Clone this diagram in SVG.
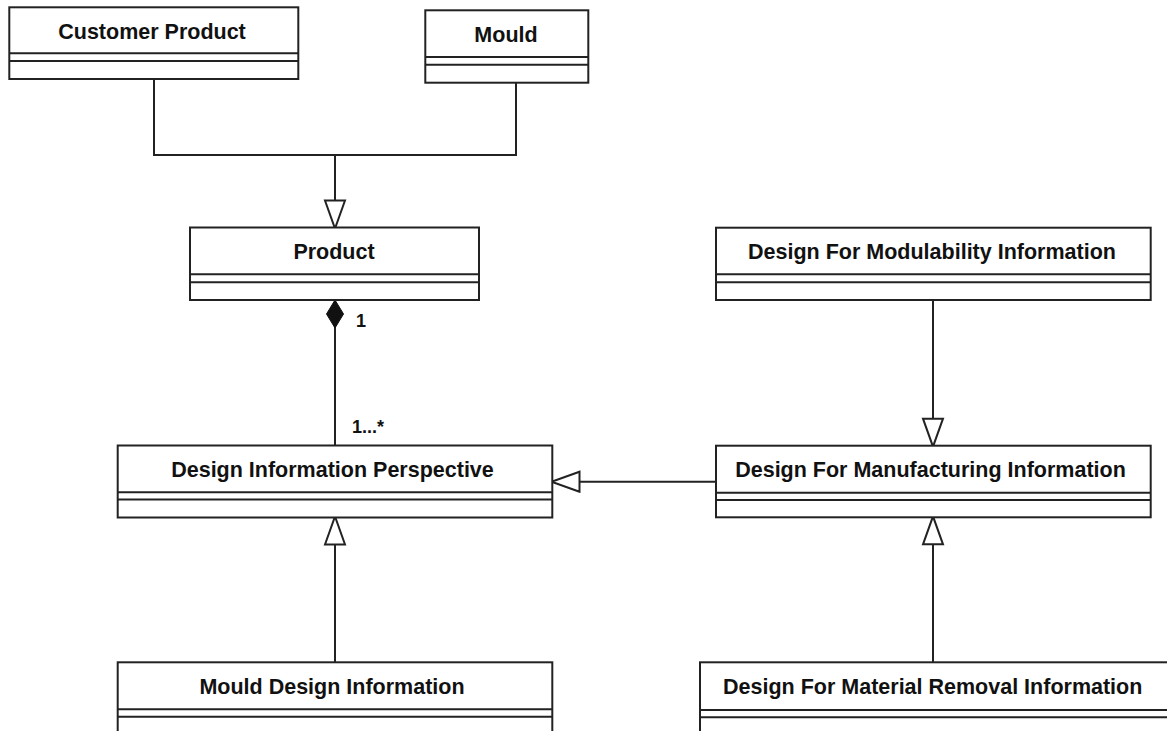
<svg xmlns="http://www.w3.org/2000/svg" width="1167" height="731" viewBox="0 0 1167 731">
  <style>
    .box { fill: #ffffff; stroke: #222222; stroke-width: 2; }
    .div { stroke: #222222; stroke-width: 2; fill: none; }
    .name { font-family: "Liberation Sans", Arial, Helvetica, sans-serif; font-weight: bold; font-size: 21.5px; fill: #111111; text-anchor: middle; }
    .mult { font-family: "Liberation Sans", Arial, Helvetica, sans-serif; font-weight: bold; font-size: 18px; fill: #111111; }
    .conn { stroke: #222222; stroke-width: 2; fill: none; }
  </style>
  <defs>
    <marker id="gen" markerUnits="userSpaceOnUse" viewBox="-2 -2 32 24" markerWidth="32" markerHeight="24" refX="27" refY="10" orient="auto" overflow="visible">
      <path d="M0,0 L28,10 L0,20 Z" fill="#ffffff" stroke="#222222" stroke-width="2" stroke-linejoin="miter"/>
    </marker>
    <marker id="comp" markerUnits="userSpaceOnUse" viewBox="-2 -2 32 22" markerWidth="32" markerHeight="22" refX="28" refY="8.5" orient="auto" overflow="visible">
      <path d="M0,8.5 L14,0 L28,8.5 L14,17 Z" fill="#111111" stroke="#111111" stroke-width="1"/>
    </marker>
  </defs>

  <g id="connectors">
    <path class="conn" d="M154,79 V155 H335"/>
    <path class="conn" d="M516,82.7 V155 H335"/>
    <path class="conn" d="M335,155 V227.5" marker-end="url(#gen)"/>
    <path class="conn" d="M335,445.5 V300" marker-end="url(#comp)"/>
    <path class="conn" d="M933,300 V445.7" marker-end="url(#gen)"/>
    <path class="conn" d="M716,481.7 H552.5" marker-end="url(#gen)"/>
    <path class="conn" d="M335,662.3 V517.5" marker-end="url(#gen)"/>
    <path class="conn" d="M933,662.3 V517.3" marker-end="url(#gen)"/>
    <text class="mult" x="356" y="326.7">1</text>
    <text class="mult" x="352" y="433.3">1...*</text>
  </g>

  <g id="customer-product">
    <rect class="box" x="9.3" y="7.3" width="289" height="71.7"/>
    <line class="div" x1="9.3" y1="53.3" x2="298.3" y2="53.3"/>
    <line class="div" x1="9.3" y1="61" x2="298.3" y2="61"/>
    <text class="name" x="152" y="38.5">Customer Product</text>
  </g>

  <g id="mould">
    <rect class="box" x="425.3" y="10.3" width="163" height="72.4"/>
    <line class="div" x1="425.3" y1="57" x2="588.3" y2="57"/>
    <line class="div" x1="425.3" y1="64.7" x2="588.3" y2="64.7"/>
    <text class="name" x="506" y="41.7">Mould</text>
  </g>

  <g id="product">
    <rect class="box" x="190" y="227.5" width="289" height="72.5"/>
    <line class="div" x1="190" y1="274.3" x2="479" y2="274.3"/>
    <line class="div" x1="190" y1="282.3" x2="479" y2="282.3"/>
    <text class="name" x="334" y="259">Product</text>
  </g>

  <g id="design-for-modulability-information">
    <rect class="box" x="716" y="227.7" width="434.7" height="72.3"/>
    <line class="div" x1="716" y1="274.3" x2="1150.7" y2="274.3"/>
    <line class="div" x1="716" y1="282.3" x2="1150.7" y2="282.3"/>
    <text class="name" x="932" y="259.3">Design For Modulability Information</text>
  </g>

  <g id="design-information-perspective">
    <rect class="box" x="117.7" y="445.5" width="434.6" height="72"/>
    <line class="div" x1="117.7" y1="492.3" x2="552.3" y2="492.3"/>
    <line class="div" x1="117.7" y1="499.5" x2="552.3" y2="499.5"/>
    <text class="name" x="332.5" y="476.7">Design Information Perspective</text>
  </g>

  <g id="design-for-manufacturing-information">
    <rect class="box" x="716" y="445.7" width="434.7" height="71.6"/>
    <line class="div" x1="716" y1="492.7" x2="1150.7" y2="492.7"/>
    <line class="div" x1="716" y1="500" x2="1150.7" y2="500"/>
    <text class="name" x="930.5" y="476.7">Design For Manufacturing Information</text>
  </g>

  <g id="mould-design-information">
    <rect class="box" x="117.7" y="662.3" width="434.6" height="80"/>
    <line class="div" x1="117.7" y1="709.3" x2="552.3" y2="709.3"/>
    <line class="div" x1="117.7" y1="716.7" x2="552.3" y2="716.7"/>
    <text class="name" x="332" y="694.3">Mould Design Information</text>
  </g>

  <g id="design-for-material-removal-information">
    <rect class="box" x="700" y="662.3" width="470" height="80"/>
    <line class="div" x1="700" y1="710" x2="1170" y2="710"/>
    <line class="div" x1="700" y1="717.3" x2="1170" y2="717.3"/>
    <text class="name" x="932.7" y="694.3">Design For Material Removal Information</text>
  </g>
</svg>
